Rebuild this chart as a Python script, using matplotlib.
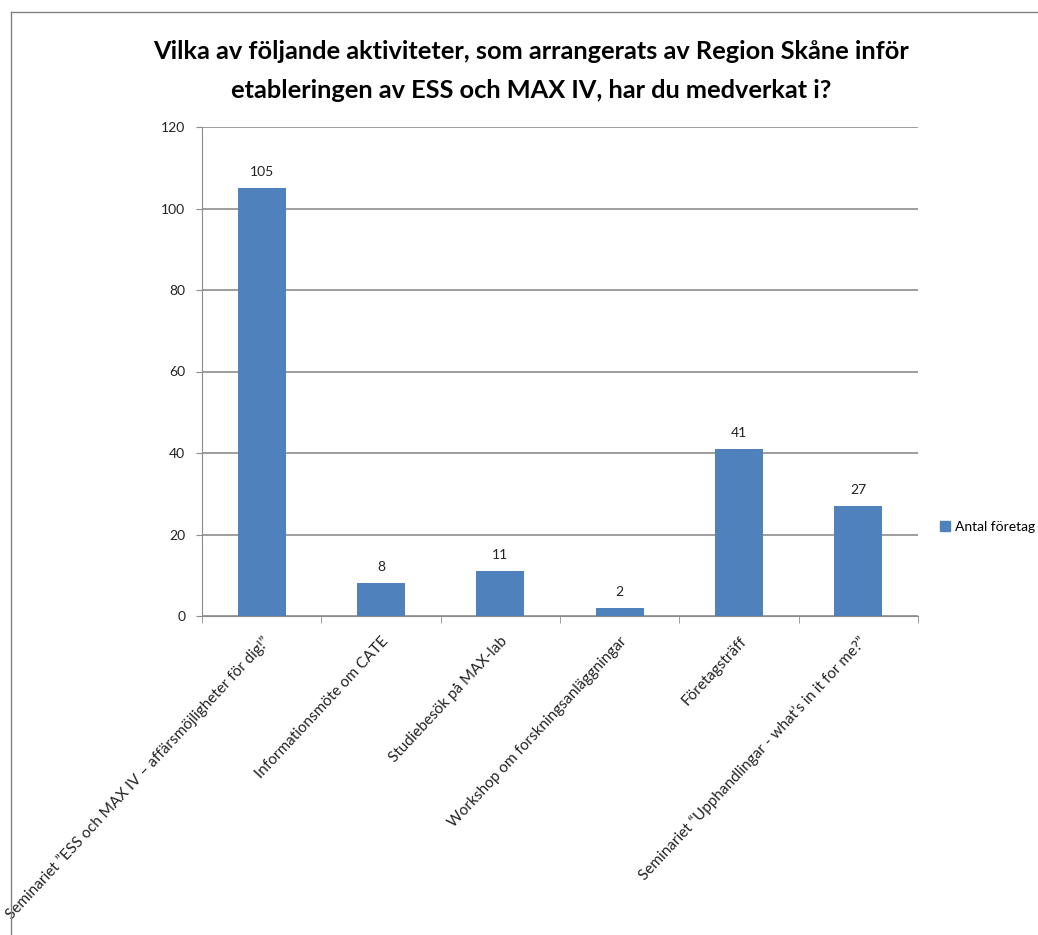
import matplotlib
matplotlib.use("Agg")
import matplotlib.pyplot as plt
from matplotlib.lines import Line2D
from matplotlib.patches import Patch

# data
categories = [
    "Seminariet \u201dESS och MAX IV \u2013 aff\u00e4rsm\u00f6jligheter f\u00f6r dig!\u201d",
    "Informationsm\u00f6te om CATE",
    "Studiebes\u00f6k p\u00e5 MAX-lab",
    "Workshop om forskningsanl\u00e4ggningar",
    "F\u00f6retagstr\u00e4ff",
    "Seminariet \u201cUpphandlingar - what\u2019s in it for me?\u201d",
]
values = [105, 8, 11, 2, 41, 27]
series_name = "Antal f\u00f6retag"
title = ("Vilka av f\u00f6ljande aktiviteter, som arrangerats av Region Sk\u00e5ne inf\u00f6r\n"
         "etableringen av ESS och MAX IV, har du medverkat i?")

plt.rcParams['font.family'] = ['Lato', 'DejaVu Sans']

bar_color = "#4f81bd"
grid_color = "#8c8c8c"

fig = plt.figure(figsize=(10.38, 9.35), dpi=100)
ax = fig.add_axes([202 / 1038, 1 - 616 / 935, 716 / 1038, 489 / 935])

x = range(len(categories))
bars = ax.bar(x, values, width=0.4, color=bar_color, zorder=3)

for b, v in zip(bars, values):
    ax.text(b.get_x() + b.get_width() / 2, v + 2.5, str(v),
            ha="center", va="bottom", fontsize=10, color="#222222")

ax.set_xlim(-0.5, len(categories) - 0.5)
ax.set_ylim(0, 120)
ax.set_yticks(range(0, 121, 20))
ax.tick_params(axis="y", labelsize=10, length=4, color=grid_color, labelcolor="#222222", pad=8)
ax.yaxis.grid(True, color=grid_color, linewidth=1.2, zorder=0)

ax.set_xticks(list(x))
ax.set_xticklabels(categories, rotation=47, ha="right", va="top",
                   rotation_mode="anchor", fontsize=11, color="#222222")
ax.tick_params(axis="x", length=0, pad=13)
ax.set_xticks([i - 0.5 for i in range(len(categories) + 1)], minor=True)
ax.tick_params(axis="x", which="minor", length=5, color=grid_color)

for side in ["top", "right"]:
    ax.spines[side].set_visible(False)
ax.spines["left"].set_color(grid_color)
ax.spines["bottom"].set_color(grid_color)

fig.text(531 / 1038, 1 - 71 / 935, title, ha="center", va="center",
         fontsize=18.3, fontweight="bold", linespacing=1.8)

handle = Patch(color=bar_color)
fig.legend([handle], [series_name], loc="center left",
           bbox_to_anchor=(940 / 1038, 1 - 527 / 935), frameon=False,
           fontsize=10, handlelength=0.7, handleheight=0.7, handletextpad=0.4,
           borderaxespad=0, borderpad=0)

# outer border lines (top and left)
fig.add_artist(Line2D([11 / 1038, 1], [1 - 12 / 935, 1 - 12 / 935], color="#808080", linewidth=1))
fig.add_artist(Line2D([11 / 1038, 11 / 1038], [0, 1 - 12 / 935], color="#808080", linewidth=1))

fig.savefig("out.png", dpi=100)
